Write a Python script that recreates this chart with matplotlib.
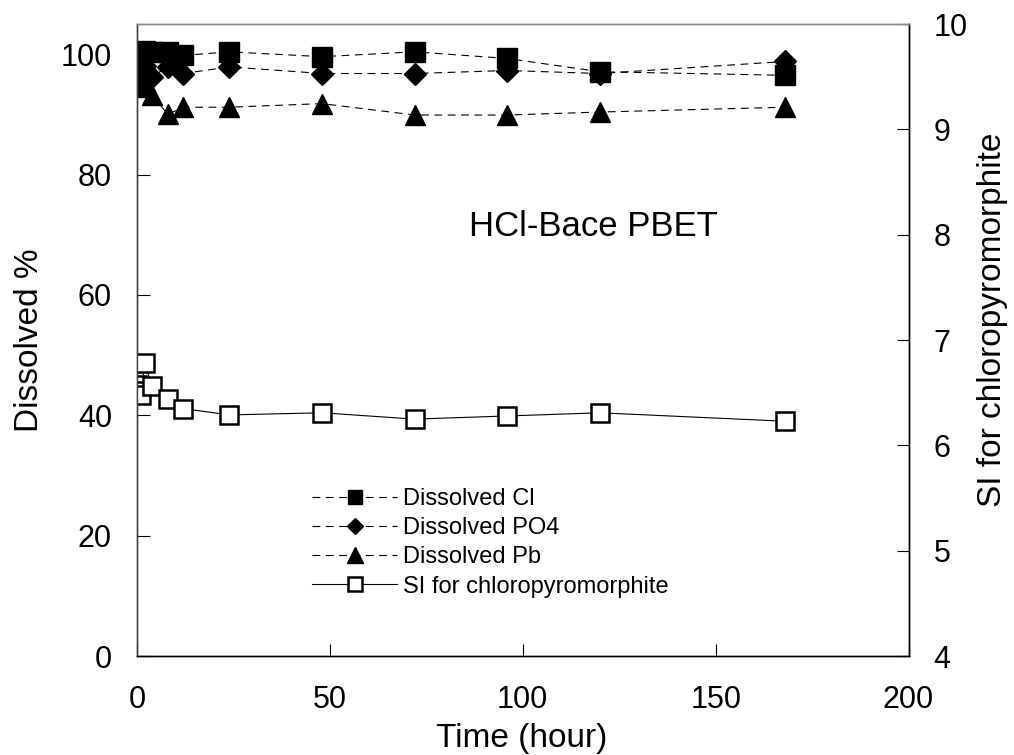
import matplotlib.pyplot as plt

plt.rcParams['font.family'] = ['Liberation Sans', 'DejaVu Sans']

# sampling times (hour)
time_h = [0, 0.5, 1, 2, 4, 8, 12, 24, 48, 72, 96, 120, 168]

# dissolved fractions (%)
cl_pct = [98.5, 99.5, 100.3, 100.5, 100.3, 100.4, 99.8, 100.4, 99.6, 100.4, 99.3, 97.1, 96.5]
po4_pct = [97.0, 96.0, 97.5, 98.0, 96.3, 97.9, 96.8, 97.9, 96.8, 96.8, 97.3, 96.8, 98.8]
pb_pct = [95.5, 94.5, 95.0, 94.8, 93.2, 90.0, 91.2, 91.2, 91.8, 89.9, 89.9, 90.4, 91.2]

# saturation index for chloropyromorphite
si_chloro = [6.57, 6.52, 6.48, 6.78, 6.56, 6.44, 6.35, 6.29, 6.31, 6.25, 6.28, 6.31, 6.23]

fig = plt.figure(figsize=(10.14, 7.55), dpi=100)
ax = fig.add_axes([0.135, 0.131, 0.761, 0.837])
ax2 = ax.twinx()

dash = (0, (7, 5))
h1, = ax.plot(time_h, cl_pct, color='black', lw=0.8, ls=dash, marker='s', ms=14,
              mfc='black', mec='black', label='Dissolved Cl')
h2, = ax.plot(time_h, po4_pct, color='black', lw=0.8, ls=dash, marker='D', ms=11,
              mfc='black', mec='black', label='Dissolved PO4')
h3, = ax.plot(time_h, pb_pct, color='black', lw=0.8, ls=dash, marker='^', ms=15,
              mfc='black', mec='black', label='Dissolved Pb')
h4, = ax2.plot(time_h, si_chloro, color='black', lw=0.8, ls='-', marker='s', ms=13,
               mfc='white', mec='black', mew=1.8, label='SI for chloropyromorphite')

ax.set_xlim(0, 200)
ax.set_ylim(0, 105)
ax2.set_ylim(4, 10)
ax.set_xticks([0, 50, 100, 150, 200])
ax.set_yticks([0, 20, 40, 60, 80, 100])
ax2.set_yticks([4, 5, 6, 7, 8, 9, 10])

ax.tick_params(axis='x', direction='in', length=9, width=0.8, pad=21, labelsize=22)
ax.tick_params(axis='y', direction='in', length=9, width=0.8, pad=18, labelsize=22)
ax2.tick_params(axis='y', direction='in', length=9, width=0.8, pad=18, labelsize=22)

for a in (ax, ax2):
    a.spines['top'].set_color('#888888')
    a.spines['left'].set_color('#444444')
    a.spines['right'].set_color('black')
    a.spines['bottom'].set_color('black')
    for s in a.spines.values():
        s.set_linewidth(1.0)

# axis titles placed like the original
fig.text(522 / 1014, 1 - 738 / 755, 'Time (hour)', fontsize=24, ha='center', va='center')
fig.text(30 / 1014, 1 - 340 / 755, 'Dissolved %', fontsize=24, rotation=90,
         ha='center', va='center')
fig.text(993 / 1014, 1 - 320 / 755, 'SI for chloropyromorphite', fontsize=24, rotation=90,
         ha='center', va='center')

ax.text(0.43, 0.665, 'HCl-Bace PBET', transform=ax.transAxes, fontsize=25)

ax2.legend(handles=[h1, h2, h3, h4], loc='lower left', bbox_to_anchor=(0.2, 0.059),
           frameon=False, fontsize=17, handlelength=3.6, handletextpad=0.25,
           labelspacing=0.3, markerscale=0.75)

fig.savefig('out.png', dpi=100)
